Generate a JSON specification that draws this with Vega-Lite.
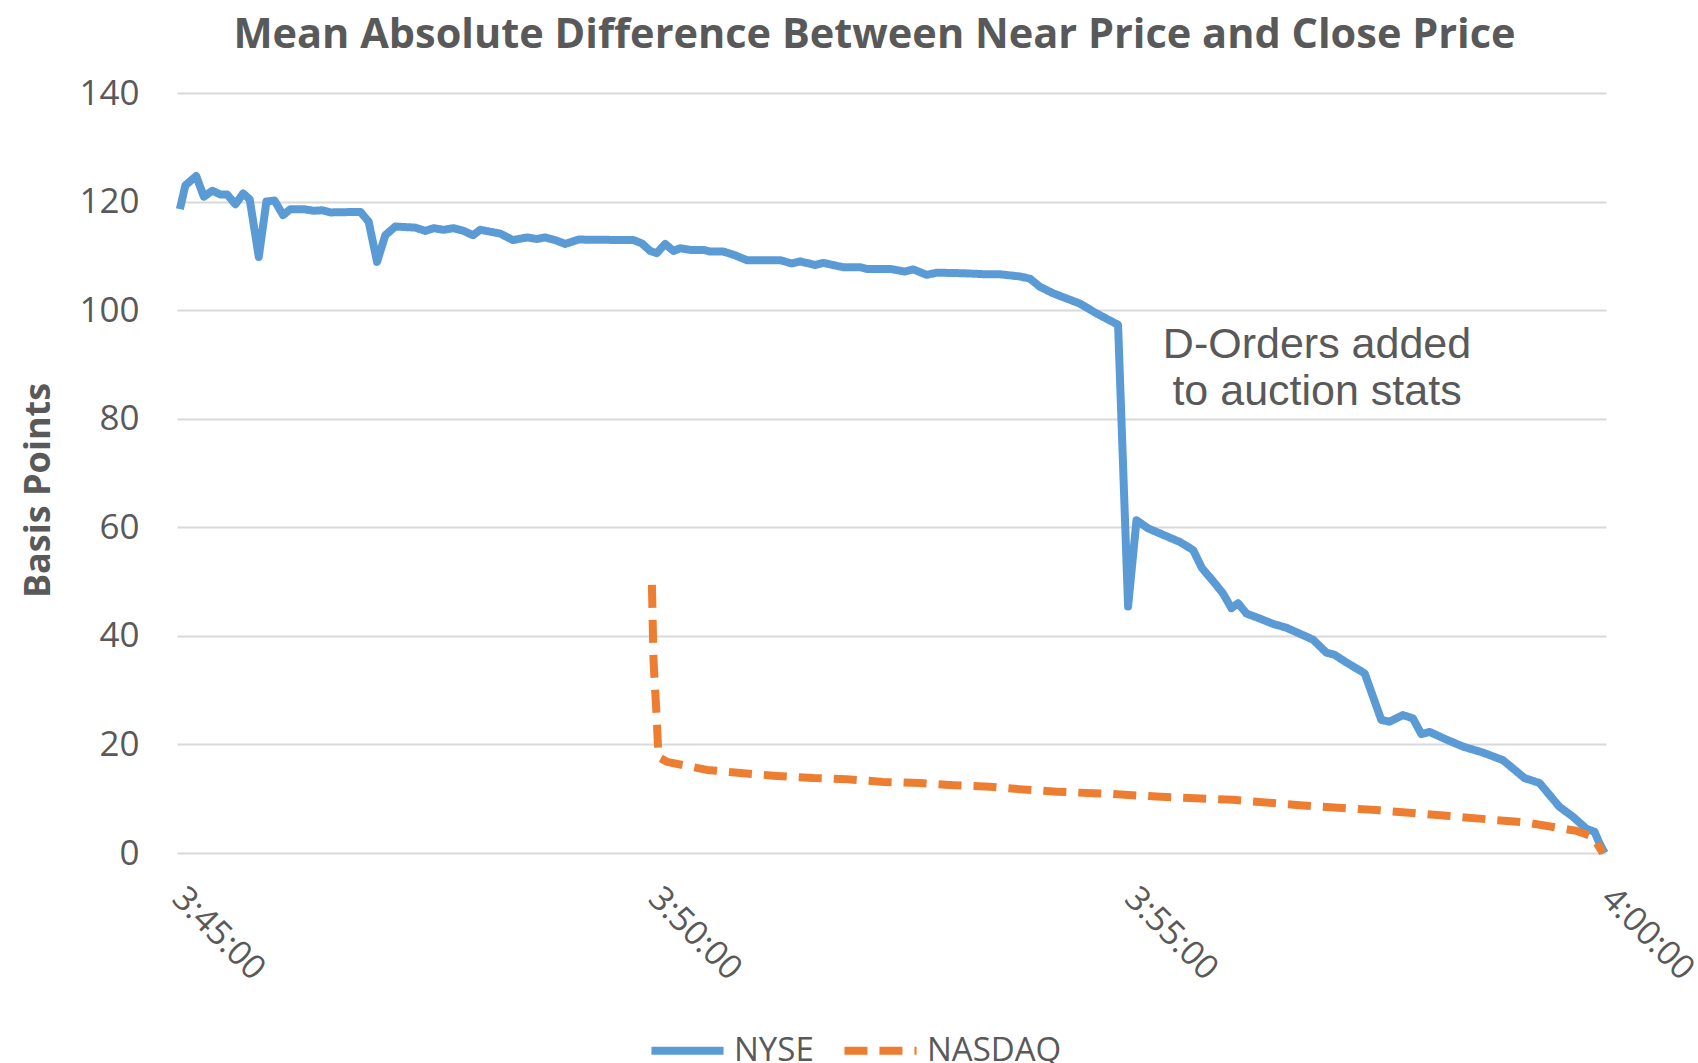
{
  "$schema": "https://vega.github.io/schema/vega-lite/v6.json",
  "autosize": "none",
  "width": 1429,
  "height": 760,
  "padding": {"left": 177, "top": 93, "right": 92, "bottom": 210},
  "background": "white",
  "config": {
    "view": {"stroke": null},
    "font": "Open Sans"
  },
  "title": {
    "text": "Mean Absolute Difference Between Near Price and Close Price",
    "font": "Open Sans",
    "fontSize": 41.5,
    "fontWeight": "bold",
    "color": "#595959",
    "anchor": "middle",
    "frame": "group",
    "offset": 20,
    "dx": -17
  },
  "datasets": {
    "series": [
      {"series": "NYSE", "t": 1.8, "v": 118.6},
      {"series": "NYSE", "t": 5.3, "v": 123.0},
      {"series": "NYSE", "t": 12.1, "v": 124.7},
      {"series": "NYSE", "t": 16.9, "v": 120.9},
      {"series": "NYSE", "t": 22.2, "v": 122.0},
      {"series": "NYSE", "t": 27.4, "v": 121.3},
      {"series": "NYSE", "t": 31.6, "v": 121.3},
      {"series": "NYSE", "t": 36.8, "v": 119.5},
      {"series": "NYSE", "t": 41.7, "v": 121.5},
      {"series": "NYSE", "t": 45.8, "v": 120.4},
      {"series": "NYSE", "t": 51.5, "v": 109.8},
      {"series": "NYSE", "t": 56.3, "v": 120.0},
      {"series": "NYSE", "t": 61.4, "v": 120.2},
      {"series": "NYSE", "t": 66.8, "v": 117.5},
      {"series": "NYSE", "t": 71.4, "v": 118.6},
      {"series": "NYSE", "t": 79.8, "v": 118.6},
      {"series": "NYSE", "t": 86.1, "v": 118.3},
      {"series": "NYSE", "t": 91.4, "v": 118.4},
      {"series": "NYSE", "t": 96.6, "v": 118.0},
      {"series": "NYSE", "t": 115.5, "v": 118.1},
      {"series": "NYSE", "t": 120.7, "v": 116.3},
      {"series": "NYSE", "t": 126.0, "v": 108.9},
      {"series": "NYSE", "t": 131.2, "v": 113.8},
      {"series": "NYSE", "t": 137.5, "v": 115.4},
      {"series": "NYSE", "t": 150.1, "v": 115.2},
      {"series": "NYSE", "t": 156.4, "v": 114.6},
      {"series": "NYSE", "t": 161.6, "v": 115.1},
      {"series": "NYSE", "t": 167.9, "v": 114.8},
      {"series": "NYSE", "t": 174.2, "v": 115.1},
      {"series": "NYSE", "t": 180.5, "v": 114.6},
      {"series": "NYSE", "t": 186.4, "v": 113.8},
      {"series": "NYSE", "t": 191.0, "v": 114.8},
      {"series": "NYSE", "t": 203.6, "v": 114.1},
      {"series": "NYSE", "t": 211.6, "v": 112.9},
      {"series": "NYSE", "t": 220.4, "v": 113.4},
      {"series": "NYSE", "t": 226.7, "v": 113.1},
      {"series": "NYSE", "t": 231.9, "v": 113.4},
      {"series": "NYSE", "t": 238.2, "v": 112.9},
      {"series": "NYSE", "t": 244.5, "v": 112.2},
      {"series": "NYSE", "t": 252.9, "v": 113.0},
      {"series": "NYSE", "t": 287.5, "v": 112.9},
      {"series": "NYSE", "t": 292.8, "v": 112.3},
      {"series": "NYSE", "t": 298.0, "v": 110.9},
      {"series": "NYSE", "t": 302.2, "v": 110.5},
      {"series": "NYSE", "t": 307.4, "v": 112.2},
      {"series": "NYSE", "t": 312.7, "v": 110.9},
      {"series": "NYSE", "t": 316.9, "v": 111.4},
      {"series": "NYSE", "t": 323.2, "v": 111.1},
      {"series": "NYSE", "t": 331.6, "v": 111.1},
      {"series": "NYSE", "t": 335.8, "v": 110.8},
      {"series": "NYSE", "t": 344.1, "v": 110.8},
      {"series": "NYSE", "t": 351.5, "v": 110.1},
      {"series": "NYSE", "t": 358.9, "v": 109.2},
      {"series": "NYSE", "t": 379.8, "v": 109.2},
      {"series": "NYSE", "t": 387.2, "v": 108.6},
      {"series": "NYSE", "t": 392.4, "v": 109.0},
      {"series": "NYSE", "t": 401.9, "v": 108.3},
      {"series": "NYSE", "t": 407.1, "v": 108.7},
      {"series": "NYSE", "t": 419.7, "v": 107.9},
      {"series": "NYSE", "t": 430.2, "v": 107.9},
      {"series": "NYSE", "t": 434.4, "v": 107.6},
      {"series": "NYSE", "t": 449.1, "v": 107.6},
      {"series": "NYSE", "t": 458.5, "v": 107.1},
      {"series": "NYSE", "t": 463.7, "v": 107.5},
      {"series": "NYSE", "t": 472.2, "v": 106.5},
      {"series": "NYSE", "t": 478.5, "v": 106.9},
      {"series": "NYSE", "t": 495.2, "v": 106.8},
      {"series": "NYSE", "t": 509.9, "v": 106.6},
      {"series": "NYSE", "t": 518.3, "v": 106.6},
      {"series": "NYSE", "t": 530.9, "v": 106.2},
      {"series": "NYSE", "t": 537.2, "v": 105.8},
      {"series": "NYSE", "t": 543.5, "v": 104.3},
      {"series": "NYSE", "t": 551.8, "v": 103.1},
      {"series": "NYSE", "t": 568.7, "v": 101.2},
      {"series": "NYSE", "t": 579.1, "v": 99.4},
      {"series": "NYSE", "t": 592.7, "v": 97.3},
      {"series": "NYSE", "t": 599.0, "v": 45.4},
      {"series": "NYSE", "t": 604.3, "v": 61.3},
      {"series": "NYSE", "t": 611.6, "v": 59.8},
      {"series": "NYSE", "t": 631.6, "v": 57.3},
      {"series": "NYSE", "t": 640.0, "v": 55.8},
      {"series": "NYSE", "t": 645.5, "v": 52.5},
      {"series": "NYSE", "t": 653.6, "v": 49.7},
      {"series": "NYSE", "t": 658.8, "v": 47.8},
      {"series": "NYSE", "t": 664.1, "v": 45.1},
      {"series": "NYSE", "t": 668.3, "v": 46.0},
      {"series": "NYSE", "t": 673.6, "v": 44.1},
      {"series": "NYSE", "t": 681.9, "v": 43.2},
      {"series": "NYSE", "t": 690.3, "v": 42.2},
      {"series": "NYSE", "t": 698.7, "v": 41.5},
      {"series": "NYSE", "t": 707.1, "v": 40.4},
      {"series": "NYSE", "t": 715.5, "v": 39.3},
      {"series": "NYSE", "t": 723.9, "v": 36.9},
      {"series": "NYSE", "t": 729.1, "v": 36.5},
      {"series": "NYSE", "t": 736.5, "v": 35.1},
      {"series": "NYSE", "t": 748.0, "v": 33.1},
      {"series": "NYSE", "t": 758.5, "v": 24.5},
      {"series": "NYSE", "t": 763.7, "v": 24.2},
      {"series": "NYSE", "t": 772.1, "v": 25.4},
      {"series": "NYSE", "t": 778.4, "v": 24.8},
      {"series": "NYSE", "t": 783.7, "v": 21.9},
      {"series": "NYSE", "t": 788.9, "v": 22.3},
      {"series": "NYSE", "t": 799.4, "v": 20.9},
      {"series": "NYSE", "t": 809.9, "v": 19.6},
      {"series": "NYSE", "t": 822.5, "v": 18.5},
      {"series": "NYSE", "t": 835.1, "v": 17.1},
      {"series": "NYSE", "t": 841.3, "v": 15.6},
      {"series": "NYSE", "t": 848.7, "v": 13.8},
      {"series": "NYSE", "t": 858.1, "v": 12.9},
      {"series": "NYSE", "t": 864.4, "v": 10.7},
      {"series": "NYSE", "t": 870.7, "v": 8.5},
      {"series": "NYSE", "t": 879.1, "v": 6.7},
      {"series": "NYSE", "t": 887.5, "v": 4.5},
      {"series": "NYSE", "t": 892.8, "v": 3.9},
      {"series": "NYSE", "t": 895.9, "v": 1.8},
      {"series": "NYSE", "t": 899.1, "v": 0},
      {"series": "NASDAQ", "t": 299.1, "v": 49.4},
      {"series": "NASDAQ", "t": 300.1, "v": 35.5},
      {"series": "NASDAQ", "t": 302.2, "v": 24.5},
      {"series": "NASDAQ", "t": 303.2, "v": 17.7},
      {"series": "NASDAQ", "t": 308.5, "v": 16.8},
      {"series": "NASDAQ", "t": 333.7, "v": 15.3},
      {"series": "NASDAQ", "t": 356.7, "v": 14.7},
      {"series": "NASDAQ", "t": 377.7, "v": 14.2},
      {"series": "NASDAQ", "t": 400.8, "v": 13.8},
      {"series": "NASDAQ", "t": 421.8, "v": 13.6},
      {"series": "NASDAQ", "t": 444.8, "v": 13.1},
      {"series": "NASDAQ", "t": 467.9, "v": 12.9},
      {"series": "NASDAQ", "t": 488.9, "v": 12.5},
      {"series": "NASDAQ", "t": 512.0, "v": 12.2},
      {"series": "NASDAQ", "t": 533.0, "v": 11.7},
      {"series": "NASDAQ", "t": 554.0, "v": 11.3},
      {"series": "NASDAQ", "t": 577.0, "v": 11.0},
      {"series": "NASDAQ", "t": 586.5, "v": 10.9},
      {"series": "NASDAQ", "t": 616.9, "v": 10.4},
      {"series": "NASDAQ", "t": 665.1, "v": 9.8},
      {"series": "NASDAQ", "t": 707.1, "v": 8.8},
      {"series": "NASDAQ", "t": 755.4, "v": 7.9},
      {"series": "NASDAQ", "t": 801.5, "v": 6.8},
      {"series": "NASDAQ", "t": 849.8, "v": 5.6},
      {"series": "NASDAQ", "t": 881.2, "v": 4.1},
      {"series": "NASDAQ", "t": 891.7, "v": 3.0},
      {"series": "NASDAQ", "t": 898.0, "v": 0}
    ],
    "notes": [
      {"t": 718, "v": 93.6, "label": ["D-Orders added", "to auction stats"]}
    ]
  },
  "layer": [
    {
      "data": {"name": "series"},
      "mark": {"type": "line", "strokeWidth": 8, "strokeCap": "butt", "strokeJoin": "round"},
      "encoding": {
        "x": {
          "field": "t",
          "type": "quantitative",
          "scale": {"domain": [0, 900], "nice": false, "zero": false},
          "axis": {
            "values": [0, 300, 600, 900],
            "labelExpr": "datum.value == 0 ? '3:45:00' : datum.value == 300 ? '3:50:00' : datum.value == 600 ? '3:55:00' : '4:00:00'",
            "labelAngle": 45,
            "labelAlign": "left",
            "labelBaseline": "middle",
            "labelPadding": 40,
            "labelFont": "Open Sans",
            "labelFontSize": 34,
            "labelColor": "#595959",
            "labelOverlap": false,
            "labelFlush": false,
            "labelBound": false,
            "grid": false,
            "domain": false,
            "ticks": false,
            "title": null
          }
        },
        "y": {
          "field": "v",
          "type": "quantitative",
          "scale": {"domain": [0, 140], "nice": false},
          "axis": {
            "values": [0, 20, 40, 60, 80, 100, 120, 140],
            "grid": true,
            "gridColor": "#D9D9D9",
            "gridWidth": 1.8,
            "domain": false,
            "ticks": false,
            "labelPadding": 38,
            "labelFont": "Open Sans",
            "labelFontSize": 35,
            "labelColor": "#595959",
            "labelBaseline": "middle",
            "title": "Basis Points",
            "titleFont": "Open Sans",
            "titleFontSize": 36,
            "titleFontWeight": "bold",
            "titleColor": "#595959",
            "titleAngle": -90,
            "titleAlign": "center",
            "titleBaseline": "middle",
            "titleX": -139,
            "titleY": 397
          }
        },
        "color": {
          "field": "series",
          "type": "nominal",
          "scale": {"domain": ["NYSE", "NASDAQ"], "range": ["#5B9BD5", "#ED7D31"]},
          "legend": {
            "title": null,
            "orient": "none",
            "legendX": 470,
            "legendY": 917,
            "direction": "horizontal",
            "symbolType": "stroke",
            "symbolSize": 5200,
            "symbolStrokeWidth": 8,
            "labelFont": "Open Sans",
            "labelFontSize": 33,
            "labelColor": "#595959",
            "labelOffset": 6,
            "columnPadding": 14
          }
        },
        "strokeDash": {
          "field": "series",
          "type": "nominal",
          "scale": {"domain": ["NYSE", "NASDAQ"], "range": [[1, 0], [23, 12]]},
          "legend": {
            "title": null,
            "orient": "none",
            "legendX": 470,
            "legendY": 917,
            "direction": "horizontal",
            "symbolType": "stroke",
            "symbolSize": 5200,
            "symbolStrokeWidth": 8,
            "labelFont": "Open Sans",
            "labelFontSize": 33,
            "labelColor": "#595959",
            "labelOffset": 6,
            "columnPadding": 14
          }
        }
      }
    },
    {
      "data": {"name": "notes"},
      "mark": {
        "type": "text",
        "font": "Liberation Sans",
        "fontSize": 43,
        "lineHeight": 47,
        "color": "#595959",
        "align": "center",
        "baseline": "middle"
      },
      "encoding": {
        "x": {"field": "t", "type": "quantitative"},
        "y": {"field": "v", "type": "quantitative"},
        "text": {"field": "label"}
      }
    }
  ]
}
